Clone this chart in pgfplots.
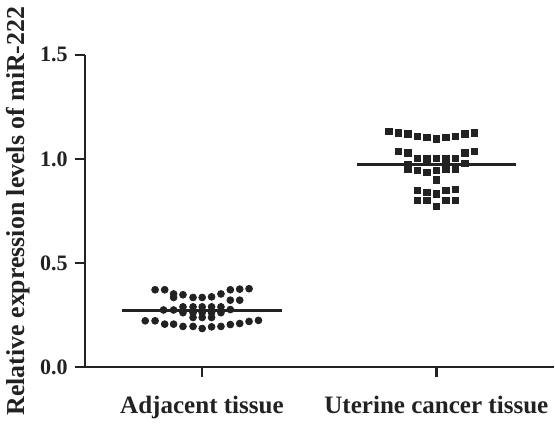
\documentclass[border=0pt]{standalone}
\usepackage{fontspec}
\setmainfont{Liberation Serif}
\usepackage{pgfplots}
\pgfplotsset{compat=1.18}
\definecolor{ink}{HTML}{222222}
\begin{document}
\begin{tikzpicture}
\begin{axis}[
  width=234pt, height=156pt, scale only axis,
  xmin=-0.5, xmax=1.5, ymin=0, ymax=1.5,
  axis lines=left, axis line style={-, line width=1.2pt, ink},
  xtick={0,1}, xticklabels={Adjacent tissue, Uterine cancer tissue},
  ytick={0,0.5,1.0,1.5},
  yticklabel style={/pgf/number format/fixed, /pgf/number format/fixed zerofill, /pgf/number format/precision=1, font=\fontsize{11}{13}\selectfont\bfseries},
  /pgf/number format/assume math mode=true,
  tick style={line width=1.2pt, ink},
  tick align=outside, major tick length=5pt,
  ticklabel style={text=ink},
  xticklabel style={yshift=-6pt, font=\fontsize{12.5}{14}\selectfont\bfseries},
  ylabel={Relative expression levels of miR-222},
  ylabel style={font=\fontsize{12.9}{14}\selectfont\bfseries, text=ink, yshift=-2pt},
  clip=false,
]
\addplot[only marks, mark=*, mark size=1.7pt, ink] coordinates {
(-0.200,0.372) (-0.159,0.372) (0.121,0.372) (0.161,0.375) (0.201,0.377)
(-0.121,0.352) (-0.081,0.348) (0.081,0.352)
(-0.121,0.335) (-0.038,0.335) (0.001,0.335) (0.041,0.338)
(0.121,0.322) (0.161,0.322)
(-0.081,0.290) (-0.038,0.290) (0.001,0.290) (0.041,0.290) (0.081,0.290)
(-0.164,0.275) (-0.121,0.275) (0.121,0.277)
(-0.081,0.262) (-0.038,0.262) (0.001,0.262) (0.041,0.262) (0.081,0.262)
(-0.038,0.239) (0.001,0.239) (0.041,0.239)
(-0.242,0.223) (-0.200,0.223) (0.201,0.220) (0.241,0.225)
(-0.159,0.207) (-0.121,0.207) (0.121,0.205) (0.161,0.210)
(-0.081,0.196) (-0.038,0.196) (0.041,0.194) (0.081,0.196)
(0.001,0.186)
};
\addplot[only marks, mark=square*, mark size=1.6pt, ink] coordinates {
(0.798,1.133) (0.838,1.125) (0.879,1.120) (0.919,1.109) (0.959,1.104)
(1.000,1.096) (1.040,1.104) (1.080,1.109) (1.121,1.120) (1.161,1.125)
(0.838,1.035) (0.879,1.029) (1.121,1.029) (1.161,1.035)
(0.919,1.003) (0.959,1.003) (1.000,1.003) (1.040,1.003) (1.080,1.003)
(0.879,0.975) (1.121,0.978) (0.959,0.985) (1.040,0.985)
(0.879,0.952) (0.919,0.944) (0.959,0.936) (1.000,0.944) (1.040,0.952) (1.080,0.952)
(1.000,0.899)
(0.919,0.848) (0.959,0.840) (1.000,0.832) (1.040,0.848) (1.080,0.853)
(0.919,0.800) (0.959,0.800) (1.000,0.773) (1.040,0.800) (1.080,0.800)
};
\addplot[ink, line width=1.5pt] coordinates {(-0.34,0.274) (0.34,0.274)};
\addplot[ink, line width=1.5pt] coordinates {(0.66,0.973) (1.34,0.973)};
\end{axis}
\end{tikzpicture}
\end{document}
